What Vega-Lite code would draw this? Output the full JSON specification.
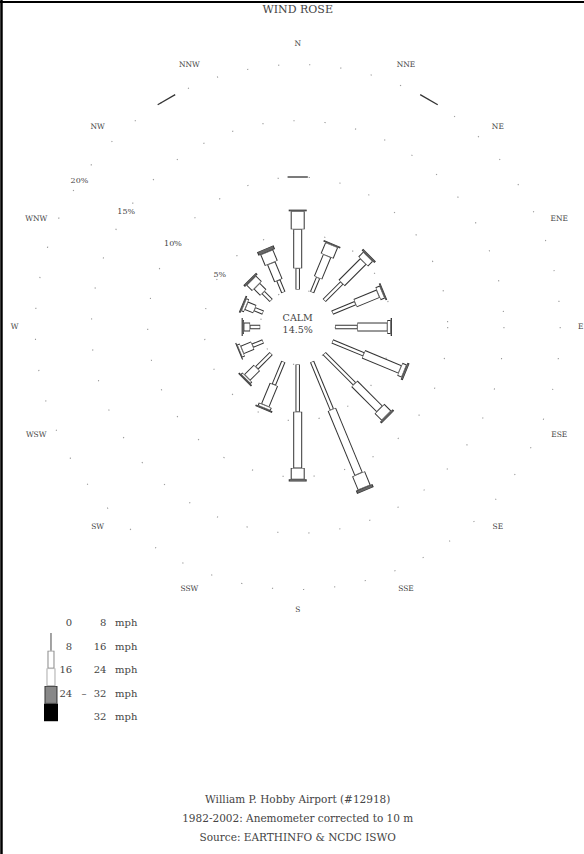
{
  "$schema": "https://vega.github.io/schema/vega-lite/v6.json",
  "width": 584,
  "height": 854,
  "padding": 0,
  "autosize": {"type": "none"},
  "background": "white",
  "config": {
    "view": {"stroke": null},
    "axis": {"disable": true},
    "legend": {"disable": true},
    "text": {"font": "DejaVu Serif", "fill": "#444"}
  },
  "datasets": {
    "rose": [
      {"dir": "N", "deg": 0, "cls": "0-8", "pct": 1.88}, {"dir": "N", "deg": 0, "cls": "8-16", "pct": 3.47}, {"dir": "N", "deg": 0, "cls": "16-24", "pct": 1.6}, {"dir": "N", "deg": 0, "cls": "24-32", "pct": 0.15}, {"dir": "N", "deg": 0, "cls": ">32", "pct": 0},
      {"dir": "NNE", "deg": 22.5, "cls": "0-8", "pct": 1.4}, {"dir": "NNE", "deg": 22.5, "cls": "8-16", "pct": 2.1}, {"dir": "NNE", "deg": 22.5, "cls": "16-24", "pct": 1.05}, {"dir": "NNE", "deg": 22.5, "cls": "24-32", "pct": 0.15}, {"dir": "NNE", "deg": 22.5, "cls": ">32", "pct": 0},
      {"dir": "NE", "deg": 45, "cls": "0-8", "pct": 2.2}, {"dir": "NE", "deg": 45, "cls": "8-16", "pct": 2.7}, {"dir": "NE", "deg": 45, "cls": "16-24", "pct": 0.6}, {"dir": "NE", "deg": 45, "cls": "24-32", "pct": 0.2}, {"dir": "NE", "deg": 45, "cls": ">32", "pct": 0},
      {"dir": "ENE", "deg": 67.5, "cls": "0-8", "pct": 2.2}, {"dir": "ENE", "deg": 67.5, "cls": "8-16", "pct": 2.2}, {"dir": "ENE", "deg": 67.5, "cls": "16-24", "pct": 0.4}, {"dir": "ENE", "deg": 67.5, "cls": "24-32", "pct": 0.15}, {"dir": "ENE", "deg": 67.5, "cls": ">32", "pct": 0},
      {"dir": "E", "deg": 90, "cls": "0-8", "pct": 1.97}, {"dir": "E", "deg": 90, "cls": "8-16", "pct": 2.66}, {"dir": "E", "deg": 90, "cls": "16-24", "pct": 0.3}, {"dir": "E", "deg": 90, "cls": "24-32", "pct": 0.12}, {"dir": "E", "deg": 90, "cls": ">32", "pct": 0},
      {"dir": "ESE", "deg": 112.5, "cls": "0-8", "pct": 3.0}, {"dir": "ESE", "deg": 112.5, "cls": "8-16", "pct": 3.5}, {"dir": "ESE", "deg": 112.5, "cls": "16-24", "pct": 0.4}, {"dir": "ESE", "deg": 112.5, "cls": "24-32", "pct": 0.2}, {"dir": "ESE", "deg": 112.5, "cls": ">32", "pct": 0},
      {"dir": "SE", "deg": 135, "cls": "0-8", "pct": 3.8}, {"dir": "SE", "deg": 135, "cls": "8-16", "pct": 3.15}, {"dir": "SE", "deg": 135, "cls": "16-24", "pct": 0.85}, {"dir": "SE", "deg": 135, "cls": "24-32", "pct": 0.2}, {"dir": "SE", "deg": 135, "cls": ">32", "pct": 0},
      {"dir": "SSE", "deg": 157.5, "cls": "0-8", "pct": 4.6}, {"dir": "SSE", "deg": 157.5, "cls": "8-16", "pct": 6.2}, {"dir": "SSE", "deg": 157.5, "cls": "16-24", "pct": 1.3}, {"dir": "SSE", "deg": 157.5, "cls": "24-32", "pct": 0.3}, {"dir": "SSE", "deg": 157.5, "cls": ">32", "pct": 0},
      {"dir": "S", "deg": 180, "cls": "0-8", "pct": 4.2}, {"dir": "S", "deg": 180, "cls": "8-16", "pct": 5.0}, {"dir": "S", "deg": 180, "cls": "16-24", "pct": 1.0}, {"dir": "S", "deg": 180, "cls": "24-32", "pct": 0.2}, {"dir": "S", "deg": 180, "cls": ">32", "pct": 0},
      {"dir": "SSW", "deg": 202.5, "cls": "0-8", "pct": 2.2}, {"dir": "SSW", "deg": 202.5, "cls": "8-16", "pct": 2.0}, {"dir": "SSW", "deg": 202.5, "cls": "16-24", "pct": 0.25}, {"dir": "SSW", "deg": 202.5, "cls": "24-32", "pct": 0.15}, {"dir": "SSW", "deg": 202.5, "cls": ">32", "pct": 0},
      {"dir": "SW", "deg": 225, "cls": "0-8", "pct": 1.8}, {"dir": "SW", "deg": 225, "cls": "8-16", "pct": 1.2}, {"dir": "SW", "deg": 225, "cls": "16-24", "pct": 0.2}, {"dir": "SW", "deg": 225, "cls": "24-32", "pct": 0.15}, {"dir": "SW", "deg": 225, "cls": ">32", "pct": 0},
      {"dir": "WSW", "deg": 247.5, "cls": "0-8", "pct": 1.0}, {"dir": "WSW", "deg": 247.5, "cls": "8-16", "pct": 1.0}, {"dir": "WSW", "deg": 247.5, "cls": "16-24", "pct": 0.25}, {"dir": "WSW", "deg": 247.5, "cls": "24-32", "pct": 0.1}, {"dir": "WSW", "deg": 247.5, "cls": ">32", "pct": 0},
      {"dir": "W", "deg": 270, "cls": "0-8", "pct": 0.9}, {"dir": "W", "deg": 270, "cls": "8-16", "pct": 0.55}, {"dir": "W", "deg": 270, "cls": "16-24", "pct": 0.1}, {"dir": "W", "deg": 270, "cls": "24-32", "pct": 0.1}, {"dir": "W", "deg": 270, "cls": ">32", "pct": 0},
      {"dir": "WNW", "deg": 292.5, "cls": "0-8", "pct": 0.8}, {"dir": "WNW", "deg": 292.5, "cls": "8-16", "pct": 0.8}, {"dir": "WNW", "deg": 292.5, "cls": "16-24", "pct": 0.25}, {"dir": "WNW", "deg": 292.5, "cls": "24-32", "pct": 0.15}, {"dir": "WNW", "deg": 292.5, "cls": ">32", "pct": 0},
      {"dir": "NW", "deg": 315, "cls": "0-8", "pct": 1.0}, {"dir": "NW", "deg": 315, "cls": "8-16", "pct": 0.8}, {"dir": "NW", "deg": 315, "cls": "16-24", "pct": 0.7}, {"dir": "NW", "deg": 315, "cls": "24-32", "pct": 0.2}, {"dir": "NW", "deg": 315, "cls": ">32", "pct": 0},
      {"dir": "NNW", "deg": 337.5, "cls": "0-8", "pct": 1.15}, {"dir": "NNW", "deg": 337.5, "cls": "8-16", "pct": 1.65}, {"dir": "NNW", "deg": 337.5, "cls": "16-24", "pct": 1.05}, {"dir": "NNW", "deg": 337.5, "cls": "24-32", "pct": 0.35}, {"dir": "NNW", "deg": 337.5, "cls": ">32", "pct": 0}
    ],
    "dirs": [
      {"dir": "N", "deg": 0}, {"dir": "NNE", "deg": 22.5}, {"dir": "NE", "deg": 45}, {"dir": "ENE", "deg": 67.5},
      {"dir": "E", "deg": 90}, {"dir": "ESE", "deg": 112.5}, {"dir": "SE", "deg": 135}, {"dir": "SSE", "deg": 157.5},
      {"dir": "S", "deg": 180}, {"dir": "SSW", "deg": 202.5}, {"dir": "SW", "deg": 225}, {"dir": "WSW", "deg": 247.5},
      {"dir": "W", "deg": 270}, {"dir": "WNW", "deg": 292.5}, {"dir": "NW", "deg": 315}, {"dir": "NNW", "deg": 337.5}
    ],
    "rings": [
      {"ring": 0, "label": ""}, {"ring": 5, "label": "5%"}, {"ring": 10, "label": "10%"}, {"ring": 15, "label": "15%"}, {"ring": 20, "label": "20%"}
    ],
    "ringdash": [
      {"ring": 10, "deg": 0}, {"ring": 20, "deg": 330}, {"ring": 20, "deg": 30}
    ],
    "legend": [
      {"cls": "0-8", "lo": "0", "dash": "", "hi": "8", "unit": "mph"},
      {"cls": "8-16", "lo": "8", "dash": "", "hi": "16", "unit": "mph"},
      {"cls": "16-24", "lo": "16", "dash": "", "hi": "24", "unit": "mph"},
      {"cls": "24-32", "lo": "24", "dash": "–", "hi": "32", "unit": "mph"},
      {"cls": ">32", "lo": "", "dash": "", "hi": "32", "unit": "mph"}
    ],
    "notes": [
      {"kind": "title", "text": "WIND ROSE", "px": 0, "py": 28.15},
      {"kind": "calm", "text": "CALM", "px": 0, "py": 0.8},
      {"kind": "calm", "text": "14.5%", "px": 0, "py": -0.25},
      {"kind": "foot", "text": "William P. Hobby Airport (#12918)", "px": 0, "py": -42.0},
      {"kind": "foot", "text": "1982-2002: Anemometer corrected to 10 m", "px": 0, "py": -43.7},
      {"kind": "foot", "text": "Source: EARTHINFO & NCDC ISWO", "px": 0, "py": -45.4}
    ]
  },
  "layer": [
    {
      "layer": [
        {
          "data": {"name": "rings"},
          "transform": [{"calculate": "datum.ring + 3.3333", "as": "u"}],
          "mark": {"type": "point", "shape": "circle", "filled": false, "stroke": "#999", "strokeWidth": 1.1, "strokeDash": [1.2, 30], "opacity": 1},
          "encoding": {
            "x": {"datum": 0, "type": "quantitative", "scale": {"domain": [-26.462, 25.449], "nice": false, "zero": false}},
            "y": {"datum": 0, "type": "quantitative", "scale": {"domain": [-46.844, 29.067], "nice": false, "zero": false}},
            "size": {"field": "u", "type": "quantitative", "scale": {"type": "pow", "exponent": 2, "domain": [0, 23.3333], "range": [0, 275625]}, "legend": null}
          }
        },
        {
          "data": {"name": "ringdash"},
          "transform": [
            {"calculate": "datum.deg * PI / 180", "as": "a"},
            {"calculate": "datum.ring + 3.3333", "as": "u"},
            {"calculate": "datum.u * sin(datum.a) - 0.9 * cos(datum.a)", "as": "x1"},
            {"calculate": "datum.u * cos(datum.a) + 0.9 * sin(datum.a)", "as": "y1"},
            {"calculate": "datum.u * sin(datum.a) + 0.9 * cos(datum.a)", "as": "x2"},
            {"calculate": "datum.u * cos(datum.a) - 0.9 * sin(datum.a)", "as": "y2"}
          ],
          "mark": {"type": "rule", "stroke": "#333", "strokeWidth": 1.3},
          "encoding": {
            "x": {"field": "x1", "type": "quantitative", "scale": {"domain": [-26.462, 25.449], "nice": false, "zero": false}},
            "y": {"field": "y1", "type": "quantitative", "scale": {"domain": [-46.844, 29.067], "nice": false, "zero": false}},
            "x2": {"field": "x2"},
            "y2": {"field": "y2"}
          }
        },
        {
          "data": {"name": "rose"},
          "transform": [
            {"calculate": "indexof(['0-8','8-16','16-24','24-32','>32'], datum.cls)", "as": "ord"},
            {"window": [{"op": "sum", "field": "pct", "as": "cum"}], "groupby": ["dir"], "sort": [{"field": "ord"}], "frame": [null, 0]},
            {"filter": "datum.pct > 0"},
            {"calculate": "datum.deg * PI / 180", "as": "a"},
            {"calculate": "3.3333 + datum.cum - datum.pct", "as": "r1"},
            {"calculate": "3.3333 + datum.cum", "as": "r2"},
            {"calculate": "datum.r1 * sin(datum.a)", "as": "x1"},
            {"calculate": "datum.r1 * cos(datum.a)", "as": "y1"},
            {"calculate": "datum.r2 * sin(datum.a)", "as": "x2"},
            {"calculate": "datum.r2 * cos(datum.a)", "as": "y2"}
          ],
          "mark": {"type": "rule", "stroke": "#333", "strokeCap": "butt"},
          "encoding": {
            "x": {"field": "x1", "type": "quantitative", "scale": {"domain": [-26.462, 25.449], "nice": false, "zero": false}},
            "y": {"field": "y1", "type": "quantitative", "scale": {"domain": [-46.844, 29.067], "nice": false, "zero": false}},
            "x2": {"field": "x2"},
            "y2": {"field": "y2"},
            "strokeWidth": {"field": "ord", "type": "quantitative", "scale": {"type": "threshold", "domain": [0.5, 1.5, 2.5, 3.5], "range": [4.5, 9, 14, 18, 20]}, "legend": null}
          }
        },
        {
          "data": {"name": "rose"},
          "transform": [
            {"calculate": "indexof(['0-8','8-16','16-24','24-32','>32'], datum.cls)", "as": "ord"},
            {"window": [{"op": "sum", "field": "pct", "as": "cum"}], "groupby": ["dir"], "sort": [{"field": "ord"}], "frame": [null, 0]},
            {"filter": "datum.pct > 0.09"},
            {"calculate": "datum.deg * PI / 180", "as": "a"},
            {"calculate": "3.3333 + datum.cum - datum.pct + 0.045", "as": "r1"},
            {"calculate": "3.3333 + datum.cum - 0.045", "as": "r2"},
            {"calculate": "datum.r1 * sin(datum.a)", "as": "x1"},
            {"calculate": "datum.r1 * cos(datum.a)", "as": "y1"},
            {"calculate": "datum.r2 * sin(datum.a)", "as": "x2"},
            {"calculate": "datum.r2 * cos(datum.a)", "as": "y2"}
          ],
          "mark": {"type": "rule", "strokeCap": "butt"},
          "encoding": {
            "x": {"field": "x1", "type": "quantitative", "scale": {"domain": [-26.462, 25.449], "nice": false, "zero": false}},
            "y": {"field": "y1", "type": "quantitative", "scale": {"domain": [-46.844, 29.067], "nice": false, "zero": false}},
            "x2": {"field": "x2"},
            "y2": {"field": "y2"},
            "strokeWidth": {"field": "ord", "type": "quantitative", "scale": {"type": "threshold", "domain": [0.5, 1.5, 2.5, 3.5], "range": [2.5, 7, 12, 16, 18]}, "legend": null},
            "color": {"field": "ord", "type": "quantitative", "scale": {"type": "threshold", "domain": [0.5, 1.5, 2.5, 3.5], "range": ["white", "white", "white", "#666", "black"]}, "legend": null}
          }
        },
        {
          "data": {"name": "dirs"},
          "transform": [
            {"calculate": "25.16 * sin(datum.deg * PI / 180)", "as": "lx"},
            {"calculate": "25.16 * cos(datum.deg * PI / 180)", "as": "ly"}
          ],
          "mark": {"type": "text", "fontSize": 7.5, "align": "center", "baseline": "middle", "fill": "#444"},
          "encoding": {
            "x": {"field": "lx", "type": "quantitative", "scale": {"domain": [-26.462, 25.449], "nice": false, "zero": false}},
            "y": {"field": "ly", "type": "quantitative", "scale": {"domain": [-46.844, 29.067], "nice": false, "zero": false}},
            "text": {"field": "dir"}
          }
        },
        {
          "data": {"name": "rings"},
          "transform": [
            {"filter": "datum.ring > 0"},
            {"calculate": "(datum.ring + 3.3333) * sin(303.75 * PI / 180)", "as": "lx"},
            {"calculate": "(datum.ring + 3.3333) * cos(303.75 * PI / 180)", "as": "ly"}
          ],
          "mark": {"type": "text", "fontSize": 8, "align": "center", "baseline": "middle", "fill": "#444"},
          "encoding": {
            "x": {"field": "lx", "type": "quantitative", "scale": {"domain": [-26.462, 25.449], "nice": false, "zero": false}},
            "y": {"field": "ly", "type": "quantitative", "scale": {"domain": [-46.844, 29.067], "nice": false, "zero": false}},
            "text": {"field": "label"}
          }
        },
        {
          "data": {"name": "notes"},
          "mark": {"type": "text", "align": "center", "baseline": "middle", "fill": "#444"},
          "encoding": {
            "x": {"field": "px", "type": "quantitative", "scale": {"domain": [-26.462, 25.449], "nice": false, "zero": false}},
            "y": {"field": "py", "type": "quantitative", "scale": {"domain": [-46.844, 29.067], "nice": false, "zero": false}},
            "text": {"field": "text"},
            "size": {"field": "kind", "type": "nominal", "scale": {"type": "ordinal", "domain": ["title", "calm", "foot"], "range": [11, 9.5, 10.5]}, "legend": null}
          }
        },
        {
          "data": {"values": [{}]},
          "mark": {"type": "rule", "stroke": "black", "strokeWidth": 2.5},
          "encoding": {
            "x": {"datum": -26.33, "type": "quantitative", "scale": {"domain": [-26.462, 25.449], "nice": false, "zero": false}}
          }
        },
        {
          "data": {"values": [{}]},
          "mark": {"type": "rule", "stroke": "black", "strokeWidth": 2},
          "encoding": {
            "y": {"datum": 28.89, "type": "quantitative", "scale": {"domain": [-46.844, 29.067], "nice": false, "zero": false}}
          }
        }
      ],
      "resolve": {"scale": {"strokeWidth": "independent", "color": "independent", "size": "independent"}}
    },
    {
      "data": {"name": "legend"},
      "transform": [
        {"calculate": "indexof(['0-8','8-16','16-24','24-32','>32'], datum.cls)", "as": "row"},
        {"calculate": "0.43 + 0.75 * datum.row", "as": "b1"},
        {"calculate": "1.18 + 0.75 * datum.row", "as": "b2"},
        {"calculate": "datum.b1 + 0.03", "as": "c1"},
        {"calculate": "datum.b2 - 0.03", "as": "c2"}
      ],
      "layer": [
        {
          "mark": {"type": "rule", "strokeCap": "butt"},
          "encoding": {
            "x": {"datum": -21.93, "type": "quantitative", "scale": {"domain": [-26.462, 25.449], "nice": false, "zero": false}},
            "y": {"field": "b1", "type": "quantitative", "scale": {"domain": [0, 4], "range": [623, 717], "nice": false, "zero": false}},
            "y2": {"field": "b2"},
            "strokeWidth": {"field": "row", "type": "quantitative", "scale": {"type": "threshold", "domain": [0.5, 1.5, 2.5, 3.5], "range": [1.2, 7, 9, 13, 14]}, "legend": null},
            "color": {"field": "row", "type": "quantitative", "scale": {"type": "threshold", "domain": [0.5, 1.5, 2.5, 3.5], "range": ["#666", "#888", "#aaa", "#333", "black"]}, "legend": null}
          }
        },
        {
          "transform": [{"filter": "datum.row > 0"}],
          "mark": {"type": "rule", "strokeCap": "butt"},
          "encoding": {
            "x": {"datum": -21.93, "type": "quantitative", "scale": {"domain": [-26.462, 25.449], "nice": false, "zero": false}},
            "y": {"field": "c1", "type": "quantitative", "scale": {"domain": [0, 4], "range": [623, 717], "nice": false, "zero": false}},
            "y2": {"field": "c2"},
            "strokeWidth": {"field": "row", "type": "quantitative", "scale": {"type": "threshold", "domain": [1.5, 2.5, 3.5], "range": [5, 7, 11, 14]}, "legend": null},
            "color": {"field": "row", "type": "quantitative", "scale": {"type": "threshold", "domain": [1.5, 2.5, 3.5], "range": ["white", "white", "#888", "black"]}, "legend": null}
          }
        },
        {
          "mark": {"type": "text", "fontSize": 10, "align": "right", "baseline": "middle", "fill": "#444"},
          "encoding": {
            "x": {"datum": -20.05, "type": "quantitative", "scale": {"domain": [-26.462, 25.449], "nice": false, "zero": false}},
            "y": {"field": "row", "type": "quantitative", "scale": {"domain": [0, 4], "range": [623, 717], "nice": false, "zero": false}},
            "text": {"field": "lo"}
          }
        },
        {
          "mark": {"type": "text", "fontSize": 10, "align": "center", "baseline": "middle", "fill": "#444"},
          "encoding": {
            "x": {"datum": -19.0, "type": "quantitative", "scale": {"domain": [-26.462, 25.449], "nice": false, "zero": false}},
            "y": {"field": "row", "type": "quantitative", "scale": {"domain": [0, 4], "range": [623, 717], "nice": false, "zero": false}},
            "text": {"field": "dash"}
          }
        },
        {
          "mark": {"type": "text", "fontSize": 10, "align": "right", "baseline": "middle", "fill": "#444"},
          "encoding": {
            "x": {"datum": -17.0, "type": "quantitative", "scale": {"domain": [-26.462, 25.449], "nice": false, "zero": false}},
            "y": {"field": "row", "type": "quantitative", "scale": {"domain": [0, 4], "range": [623, 717], "nice": false, "zero": false}},
            "text": {"field": "hi"}
          }
        },
        {
          "mark": {"type": "text", "fontSize": 10, "align": "left", "baseline": "middle", "fill": "#444"},
          "encoding": {
            "x": {"datum": -16.24, "type": "quantitative", "scale": {"domain": [-26.462, 25.449], "nice": false, "zero": false}},
            "y": {"field": "row", "type": "quantitative", "scale": {"domain": [0, 4], "range": [623, 717], "nice": false, "zero": false}},
            "text": {"field": "unit"}
          }
        }
      ],
      "resolve": {"scale": {"strokeWidth": "independent", "color": "independent"}}
    }
  ],
  "resolve": {"scale": {"y": "independent", "strokeWidth": "independent", "color": "independent", "size": "independent"}}
}
